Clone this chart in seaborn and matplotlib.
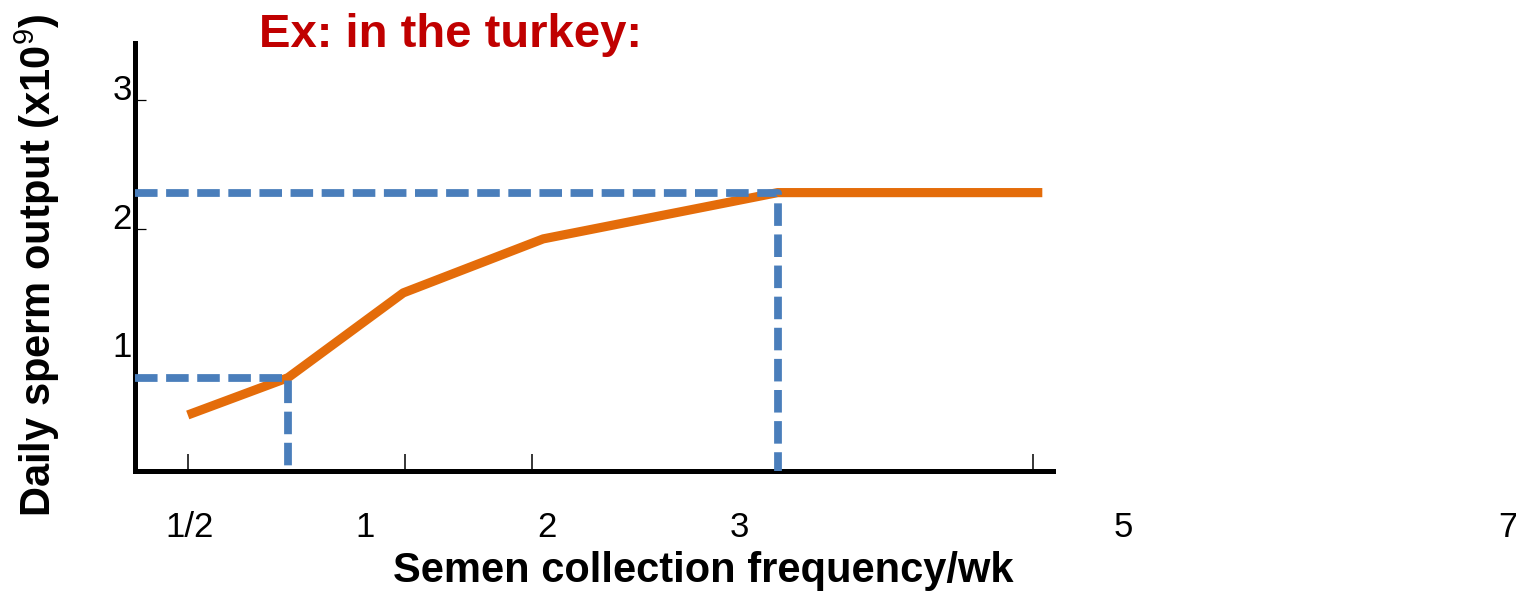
import numpy as np
import pandas as pd
import seaborn as sns
import matplotlib.pyplot as plt
from matplotlib.ticker import FixedLocator

# ---- data ----
freq_labels = ["1/2", "1", "2", "3", "5", "7"]
freq_label_pos = [0.06, 0.99, 1.95, 2.97, 5.0, 7.03]   # where each label sits on the axis
curve_pos = [0.05, 0.58, 1.19, 1.93, 3.17, 4.57]
sperm_output = [0.55, 0.84, 1.50, 1.92, 2.28, 2.28]
tick_mark_pos = [0.05, 1.20, 1.87, 4.52]      # small tick marks drawn on the x axis
y_ticks = [1, 2, 3]
y_tick_labels = ["1", "2", "3"]
marked_idx = [1, 4]                            # points highlighted by dashed guides

ORANGE = "#E46C0A"
BLUE = "#4A7EBB"
RED = "#C00000"

sns.set_theme(style="white")
plt.rcParams['font.family'] = ['Liberation Sans', 'DejaVu Sans']
plt.rcParams['mathtext.fontset'] = 'custom'
plt.rcParams['mathtext.rm'] = 'Liberation Sans'
plt.rcParams['mathtext.bf'] = 'Liberation Sans:bold'

W, H = 1516, 592
fig = plt.figure(figsize=(W / 100, H / 100), dpi=100)
left, right, top, bottom = 134.5, 1516, 43, 470.5
ax = fig.add_axes([left / W, 1 - bottom / H, (right - left) / W, (bottom - top) / H])
XLIM = (-0.2317, 7.0755)
YLIM = (0.118, 3.444)
ax.set_xlim(XLIM)
ax.set_ylim(YLIM)

df = pd.DataFrame({"pos": curve_pos, "out": sperm_output})
sns.lineplot(data=df, x="pos", y="out", ax=ax, color=ORANGE, lw=6.6,
             sort=False, estimator=None, zorder=3, solid_capstyle="butt")

for i in marked_idx:
    gx, gy = curve_pos[i], sperm_output[i]
    guide = pd.DataFrame({"x": [XLIM[0], gx, gx], "y": [gy, gy, YLIM[0]]})
    sns.lineplot(data=guide, x="x", y="y", ax=ax, color=BLUE, lw=5.6, sort=False,
                 estimator=None, zorder=4, clip_on=False)
    ax.lines[-1].set_dashes((2.9, 1.1))

# spines
sns.despine(ax=ax)
for s in ("left", "bottom"):
    ax.spines[s].set_linewidth(3.6)
    ax.spines[s].set_color("black")
ax.spines["bottom"].set_bounds(XLIM[0], 4.627)

# x ticks: labels (no marks) + separate small marks
ax.set_xticks(freq_label_pos, freq_labels)
ax.tick_params(axis="x", which="major", length=0, pad=29, labelsize=25,
               labelcolor="black", bottom=True)
ax.xaxis.set_minor_locator(FixedLocator(tick_mark_pos))
ax.tick_params(axis="x", which="minor", direction="in", length=12, width=1.1,
               color="black", bottom=True)

# y ticks
ax.set_yticks(y_ticks, y_tick_labels)
ax.tick_params(axis="y", direction="in", length=8, width=0.9, color="black",
               left=True, pad=2, labelsize=25, labelcolor="black")
for lbl in ax.get_yticklabels():
    lbl.set_verticalalignment("baseline")
ax.yaxis.get_major_ticks()[0].tick1line.set_markersize(1.5)

ax.set_xlabel("Semen collection frequency/wk", fontsize=30, fontweight="bold", color="black")
ax.xaxis.set_label_coords(0.4115, -0.2608)
ax.xaxis.label.set_verticalalignment("baseline")

ax.set_ylabel(r"Daily sperm output (x10$^{9}$)", fontsize=30, fontweight="bold", color="black")
ax.yaxis.set_label_coords(-0.070, 0.4807)
ax.yaxis.label.set_verticalalignment("center")

fig.text(259 / W, 1 - 47 / H, "Ex: in the turkey:", color=RED, fontsize=34,
         fontweight="bold", ha="left", va="baseline")

fig.savefig("out.png", dpi=100)
